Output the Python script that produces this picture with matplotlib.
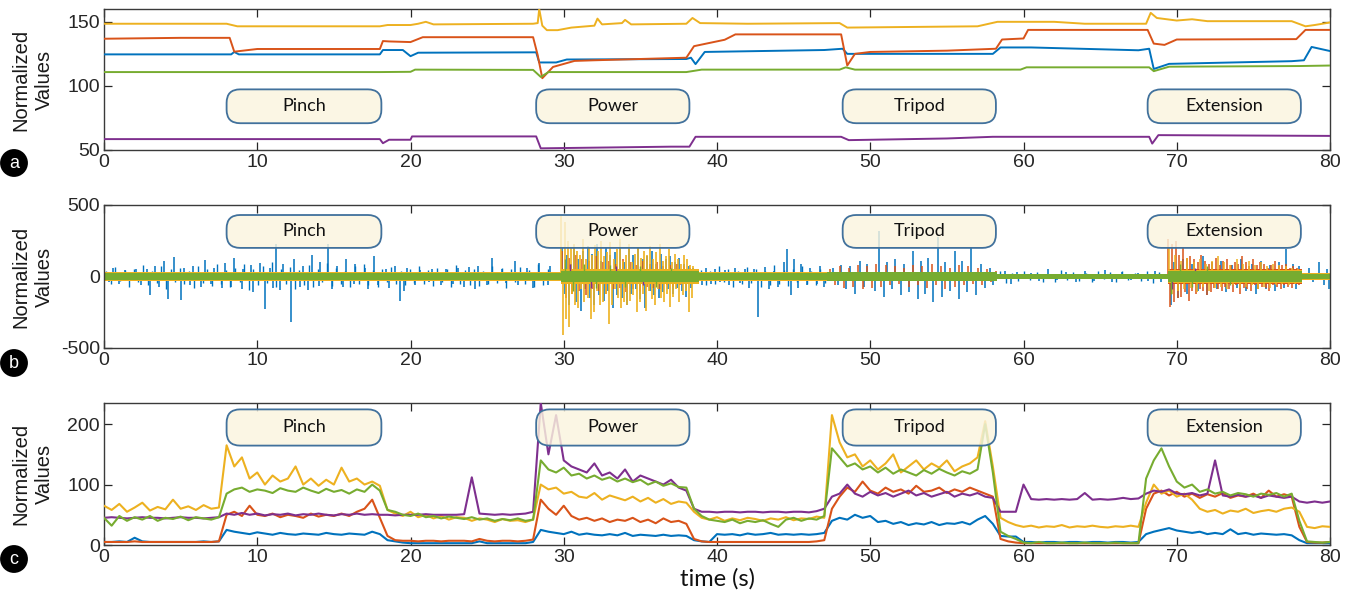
import numpy as np
import matplotlib
matplotlib.use("Agg")
import matplotlib.pyplot as plt
from matplotlib.colors import to_rgba
from matplotlib.patches import FancyBboxPatch

plt.rcParams["font.family"] = ["Liberation Sans", "DejaVu Sans"]
plt.rcParams["axes.unicode_minus"] = False

BLUE, ORANGE, YELLOW, PURPLE, GREEN = "#0072BD", "#D95319", "#EDB120", "#7E2F8E", "#77AC30"
AXIS_COLOR = "#3a3a3a"
BOX_FACE = to_rgba("#FBF4DE", 0.82)
BOX_EDGE = "#41719C"

GESTURES = ["Pinch", "Power", "Tripod", "Extension"]
GESTURE_START = [8.0, 28.2, 48.2, 68.1]
GESTURE_END = [18.1, 38.2, 58.2, 78.1]

# ---- panel a: slow baselines, (time, value) vertices
a_blue_t = [0, 8.3, 8.5, 8.8, 18.0, 18.2, 19.5, 20.0, 20.5, 28.2, 28.4, 29.5, 30.2, 38.0, 38.3, 38.6, 39.2,
            47.0, 48.2, 48.5, 58.0, 58.5, 60.5, 67.5, 68.2, 68.5, 69.5, 77.5, 78.3, 78.8, 80]
a_blue_v = [124.6, 124.6, 126.5, 124.6, 124.6, 128, 128, 123.2, 125.9, 126.2, 118.3, 118.3, 120.6, 121, 122,
            117, 126.5, 128, 129, 125, 125, 130, 130, 127.8, 129, 113.2, 117.2, 119.3, 120, 130.4, 127.2]
a_orange_t = [0, 5, 8.2, 8.5, 10, 18.0, 18.2, 18.6, 20.0, 20.8, 28.0, 28.3, 28.6, 29.3, 30.7, 32, 38.0,
              38.5, 39.5, 40.5, 41.2, 48.1, 48.5, 49.0, 50, 55, 58.2, 58.6, 60.0, 60.3, 68.1, 68.5, 69.2,
              70, 77.8, 78.4, 80]
a_orange_v = [136.8, 137.5, 137.5, 126.7, 128.8, 128.8, 135, 134.7, 134.2, 138, 138, 124, 106, 114.8, 119.5,
              120, 122, 131, 133.5, 136, 140.2, 140.2, 115.9, 125, 126.5, 127.5, 129, 136.2, 137, 143.7,
              143.7, 133, 132, 136.2, 136.5, 143.7, 143.7]
a_yellow_t = [0, 8, 8.7, 18, 18.5, 20, 20.5, 21, 21.5, 28, 28.3, 28.4, 28.6, 28.9, 29.6, 30.5, 32, 32.2,
              32.5, 33.8, 34.0, 34.4, 38, 38.4, 38.9, 42, 48, 48.5, 57, 58.3, 62, 64, 68, 68.3, 68.7, 70,
              71, 72, 77.5, 78.4, 79, 80]
a_yellow_v = [148.5, 148.5, 146.5, 146.5, 147.5, 147.5, 148.5, 150, 148, 148.5, 149, 160, 147, 143.5, 143.5,
              145.5, 147, 152.5, 148, 149, 151.5, 148, 148.5, 153, 149, 148.5, 149, 145.5, 146.5, 150, 150,
              148.5, 148.5, 157, 153, 151, 152, 150.5, 150.5, 146.5, 147.5, 149.5]
a_green_t = [0, 18, 20, 20.3, 28.0, 28.5, 29.0, 38.0, 39.0, 48.0, 48.4, 49.0, 59.8, 60.2, 68.2, 68.5,
             69.5, 78, 80]
a_green_v = [110.8, 110.8, 111, 112.7, 112.5, 107, 110.8, 110.8, 112.7, 112.7, 114.5, 112.7, 112.7, 114.5,
             114.5, 111.5, 115, 115.5, 115.9]
a_purple_t = [0, 18.0, 18.2, 18.6, 20.0, 20.1, 28.2, 28.5, 37.0, 38.2, 38.6, 48.1, 48.6, 55, 58, 68.2,
              68.4, 68.8, 80]
a_purple_v = [58.5, 58.5, 55.3, 58, 58, 60.6, 60.6, 51.3, 52.6, 52.6, 60.3, 60.3, 57.7, 59, 60.3, 60.3, 55,
              61.6, 61]

# ---- panel b: the dense core of each trace per stretch, plus the individual spikes
b_edges = [0, 29.8, 38.8, 47.2, 58.3, 69.4, 78.2, 80]
b_core_blue = [30, 45, 30, 32, 20, 40, 25]
b_core_orange = [30, 45, 30, 34, 20, 52, 26]
b_core_yellow = [30, 50, 30, 32, 20, 46, 26]
b_core_purple = [22, 35, 22, 26, 15, 35, 18]
b_core_green = [24, 38, 24, 28, 16, 40, 20]

b_blue_t = [0.6, 1.4, 2.1, 2.8, 3.3, 3.9, 4.6, 5.2, 5.8, 6.6, 7.2, 7.9, 8.5, 9.1, 9.6, 10.2, 10.8, 11.2,
            11.7, 12.4, 13.0, 13.6, 14.1, 14.6, 15.2, 15.8, 16.4, 17.0, 17.6, 18.4, 19.0, 19.8, 20.6, 21.4,
            22.3, 23.1, 23.8, 24.4, 25.3, 26.0, 26.8, 27.6, 28.4, 29.1,
            0.3, 1.0, 2.4, 3.0, 3.6, 4.2, 5.0, 5.6, 6.3, 7.0, 7.7, 8.3, 9.0, 9.7, 10.5, 11.0, 11.5, 12.2,
            12.8, 13.3, 14.0, 14.9, 15.6, 16.3, 17.2, 17.9, 18.6, 19.3, 19.6, 20.3, 21.2, 22.0, 22.8, 23.5,
            24.2, 25.0, 26.2, 27.0, 28.0, 29.0,
            39.3, 39.9, 40.5, 41.2, 41.8, 42.4, 43.1, 43.7, 44.4, 44.6, 45.0, 45.5, 46.1, 46.7,
            39.0, 39.6, 40.2, 40.8, 41.5, 42.1, 42.7, 43.4, 44.0, 44.8, 45.3, 45.9, 46.5, 47.0,
            47.6, 48.1, 48.7, 49.3, 49.8, 50.6, 51.1, 51.6, 52.2, 52.8, 53.3, 53.8, 54.4, 54.9, 55.5,
            56.0, 56.6, 57.2, 57.8,
            47.9, 48.4, 49.0, 49.6, 50.3, 50.9, 51.4, 52.0, 52.5, 53.1, 53.6, 54.1, 54.7, 55.2, 55.8,
            56.3, 56.9, 57.5, 58.0,
            58.8, 59.6, 60.5, 61.6, 62.8, 64.0, 65.3, 66.4, 67.5, 68.6,
            59.2, 60.1, 61.0, 62.2, 63.4, 64.6, 65.8, 67.0, 68.1, 69.0,
            69.8, 70.4, 71.0, 71.7, 72.3, 72.9, 73.6, 74.2, 74.9, 75.5, 76.1, 76.7, 77.1, 77.6, 78.0,
            69.6, 70.1, 70.7, 71.4, 72.0, 72.6, 73.2, 73.9, 74.5, 75.2, 75.8, 76.4, 77.0, 77.8,
            78.6, 79.3, 79.8, 78.9, 79.6, 79.95]
b_blue_v = [60, 45, 55, 50, 70, 110, 135, 60, 75, 115, 60, 95, 130, 55, 80, 95, 60, 225,
            90, 120, 70, 150, 100, 225, 70, 120, 90, 60, 140, 55, 70, 60, 45, 55,
            50, 60, 65, 70, 130, 55, 110, 60, 95, 70,
            -35, -50, -60, -130, -75, -155, -165, -60, -75, -55, -80, -70, -90, -110, -225, -80, -95, -320,
            -75, -95, -65, -90, -70, -55, -90, -60, -80, -170, -100, -60, -40, -60, -55, -70,
            -85, -60, -45, -60, -80, -60,
            60, 50, 45, 60, 55, 50, 65, 40, 100, 190, 120, 90, 60, 70,
            -60, -50, -40, -60, -45, -80, -285, -90, -70, -130, -80, -60, -50, -70,
            60, 80, 70, 110, 90, 320, 100, 120, 90, 180, 110, 130, 275, 100, 180,
            110, 200, 90, 60,
            -60, -90, -120, -70, -100, -140, -90, -130, -110, -160, -120, -180, -140, -100, -160,
            -110, -130, -80, -60,
            40, 30, 25, 50, 30, 35, 45, 30, 25, 40,
            -50, -20, -30, -25, -35, -30, -40, -25, -30, -40,
            100, 120, 90, 140, 100, 110, 80, 120, 90, 110, 80, 100, 190, 90, 70,
            -200, -150, -120, -100, -130, -90, -110, -80, -100, -120, -90, -100, -80, -90,
            60, 100, 50, -40, -60, -90]

b_blue_rest1_start, b_blue_rest1_step = 0.15, 0.3
b_blue_rest1 = [40, -50, 65, -30, 45, -70, 55, -40, 80, -60, 35, -45, 70, -90, 50, -35, 60, -55, 40, -80,
                75, -45, 55, -65, 90, -50, 45, -70, 60, -40, 85, -95, 50, -60, 70, -45, 100, -75, 55, -50,
                65, -85, 45, -60, 80, -70, 50, -40, 95, -65, 60, -55, 40, -75, 70, -50, 85, -60, 45, -70,
                55, -40, 65, -50, 40, -60, 50, -45, 70, -55, 45, -65, 60, -40, 50, -70, 80, -50, 45, -60,
                55, -65, 40, -50, 75, -45, 60, -80, 50, -40, 65, -55, 45, -70, 90, -60, 50]
b_blue_rest2_start, b_blue_rest2_step = 38.95, 0.3
b_blue_rest2 = [45, -60, 35, -50, 70, -40, 55, -75, 40, -55, 65, -45, 50, -70, 35, -60, 80, -50,
                45, -65, 55, -40, 70, -55, 40, -60, 50, -45]
b_blue_rest3_start, b_blue_rest3_step = 58.45, 0.4
b_blue_rest3 = [35, -45, 25, -30, 40, -25, 30, -40, 20, -35, 45, -25, 30, -30, 25, -40, 35, -20,
                30, -35, 40, -25, 25, -30, 35, -45, 30]
b_blue_power_start, b_blue_power_step = 29.9, 0.15
b_blue_power = [200, -120, 150, -200, 90, 220, -180, 120, -240, 180, -90, 210, -150, 160, -200,
                230, -130, 110, -170, 200, -100, 150, -220, 170, -130, 240, -150, 100, -200, 190,
                -120, 150, -90, 200, -160, 120, -220, 140, -100, 180, -130, 90, -150, 160, -110,
                120, -90, 140, -120, 100, -80, 130, -100, 90, -140, 70, -80, 60]
b_yellow_power_start, b_yellow_power_step = 29.85, 0.1
b_yellow_power = [420, -410, 380, -300, 250, -350, 200, -120, 230, -200, 180, -220, 150, -90, 260, -180,
                  120, -150, 200, -300, 150, -250, 220, -100, 180, -200, 250, -180, 140, -120, 170, -330,
                  240, -200, 120, -90, 190, -150, 260, -220, 110, -180, 150, -200, 230, -170, 100, -130,
                  160, -250, 200, -180, 130, -120, 180, -240, 150, -100, 210, -160, 120, -200, 170, -90,
                  230, -150, 110, -180, 140, -120, 190, -210, 100, -140, 160, -90, 120, -180, 90, -130,
                  150, -100, 120, -250, 80, -150, 70]
b_orange_power_start, b_orange_power_step = 29.9, 0.22
b_orange_power = [180, -150, 130, -120, 150, -100, 120, -130, 110, -90, 140, -100, 100, -120, 110,
                  -90, 90, -80, 120, -110, 100, -90, 80, -100, 110, -70, 90, -80, 100, -90, 70, -60,
                  80, -70, 90, -60, 70, -50, 60, -40]
b_orange_tripod_start, b_orange_tripod_step = 47.4, 0.3
b_orange_tripod = [50, -60, 70, -80, 60, -70, 80, -90, 70, -80, 90, -70, 80, -60, 70, -50, 60, -70,
                   80, -60, 70, -80, 90, -60, 70, -90, 60, -70, 80, -60, 70, -50, 60, -60, 50, -40, 40]
b_orange_ext_start, b_orange_ext_step = 69.45, 0.12
b_orange_ext = [260, -210, 230, -180, 250, -150, 150, -140, 200, -110, 130, -170, 140, -100, 120, -120,
                100, -90, 150, -100, 110, -130, 90, -110, 100, -80, 130, -90, 80, -100, 110, -70,
                120, -90, 80, -110, 100, -60, 90, -120, 140, -80, 100, -90, 70, -100, 120, -60,
                80, -90, 100, -70, 90, -80, 60, -100, 80, -60, 110, -70, 70, -90, 80, -60, 90, -70,
                60, -80, 70, -50, 60, -60, 50]
b_yellow_ext_start, b_yellow_ext_step = 69.5, 0.2
b_yellow_ext = [200, -120, 150, -100, 110, -90, 130, -80, 100, -110, 120, -70, 90, -100, 110, -80,
                140, -70, 100, -90, 80, -60, 120, -80, 90, -70, 110, -60, 80, -90, 100, -70, 70, -80,
                90, -60, 80, -50, 70, -60, 60, -50, 50, -40]

b_purple_t = [30.4, 31.8, 33.4, 35.2, 69.7, 71.2]
b_purple_v = [90, -80, 70, -60, -90, 60]

b_green_t = [30.1, 30.6, 31.3, 32.1, 33.0, 34.0, 35.0, 36.0, 37.0, 69.6, 70.2, 71.0, 72.0, 73.5]
b_green_v = [120, -100, 90, -80, 80, -70, 70, -70, 60, -120, 90, -70, 70, -60]

# ---- panel c: envelopes sampled every 0.5 s from 0 to 80 s
c_time = np.arange(161) * 0.5
c_yellow = [65, 58, 68, 55, 62, 70, 57, 63, 59, 75, 60, 64, 58, 66, 60, 62,
            165, 130, 145, 110, 120, 100, 115, 105, 110, 130, 100, 110, 98, 108, 100, 128, 105, 110, 100, 105, 98,
            58, 52, 48, 55, 46, 50, 44, 48, 42, 46, 45, 40, 44, 42, 38, 43, 40, 41, 38, 42,
            100, 92, 95, 85, 88, 80, 78, 86, 75, 82, 78, 74, 80, 72, 78, 70, 76, 68, 72, 70,
            55, 45, 42, 46, 40, 44, 41, 45, 43, 40, 44, 42, 46, 41, 44, 43, 47, 45,
            215, 170, 145, 150, 130, 140, 125, 135, 150, 120, 130, 140, 125, 135, 128, 140, 122, 130, 135, 145, 205, 130,
            45, 38, 33, 30, 32, 29, 31, 30, 33, 29, 31, 30, 32, 30, 29, 31, 30, 32, 30,
            70, 100, 85, 90, 80, 85, 75, 60, 55, 58, 52, 57, 55, 60, 53, 56, 58, 55, 60, 62,
            55, 30, 28, 31, 30]
c_green = [45, 32, 48, 40, 46, 42, 48, 40, 45, 43, 47, 41, 46, 44, 42, 46,
           85, 92, 95, 88, 92, 90, 86, 94, 90, 88, 95, 90, 86, 93, 88, 91, 85, 92, 88, 100, 90,
           58, 55, 50, 48, 52, 46, 48, 44, 47, 45, 43, 46, 42, 44, 40, 43, 41, 44, 40, 42,
           140, 125, 120, 128, 115, 118, 110, 115, 108, 112, 105, 110, 104, 108, 100, 105, 98, 102, 96, 95,
           60, 48, 42, 40, 38, 42, 36, 40, 38, 41, 35, 30, 42, 45, 40, 44, 42, 48,
           160, 145, 130, 135, 125, 130, 120, 128, 118, 125, 120, 115, 124, 118, 126, 120, 115, 122, 118, 125, 200, 120,
           22, 15, 10, 4, 3, 5, 3, 3, 4, 3, 3, 4, 3, 3, 3, 4, 3, 3, 3,
           110, 140, 160, 130, 105, 95, 100, 88, 92, 85, 88, 82, 86, 84, 80, 85, 83, 86, 80, 85,
           40, 6, 5, 4, 5]
c_orange = [5, 5, 5, 5, 6, 5, 5, 5, 5, 5, 5, 5, 5, 5, 5, 6,
            50, 55, 48, 65, 50, 48, 52, 46, 50, 48, 45, 52, 47, 50, 48, 52, 48, 55, 60, 75, 45,
            15, 8, 7, 7, 6, 7, 7, 6, 7, 7, 7, 6, 10, 7, 6, 7, 7, 6, 7, 9,
            75, 60, 50, 65, 48, 42, 45, 40, 44, 38, 42, 40, 45, 38, 42, 36, 44, 38, 40, 35,
            10, 6, 5, 5, 5, 5, 5, 5, 5, 5, 5, 5, 5, 5, 5, 5, 6, 8,
            60, 80, 95, 88, 105, 90, 85, 95, 88, 92, 85, 98, 88, 90, 95, 86, 92, 88, 95, 90, 85, 80,
            10, 6, 4, 3, 3, 3, 3, 3, 3, 3, 3, 3, 3, 3, 3, 3, 3, 3, 3,
            60, 85, 90, 82, 88, 80, 85, 78, 84, 80, 86, 78, 82, 80, 85, 78, 90, 80, 84, 80,
            30, 5, 4, 4, 5]
c_purple = [45, 46, 45, 44, 45, 46, 45, 45, 44, 45, 46, 45, 45, 44, 45, 46,
            52, 50, 53, 50, 52, 49, 51, 50, 52, 49, 51, 50, 52, 50, 49, 51, 50, 52, 50, 51, 50,
            50, 49, 50, 50, 50, 51, 50, 50, 50, 50, 51, 112, 52, 51, 50, 51, 50, 51, 52, 55,
            235, 150, 215, 140, 130, 125, 120, 135, 115, 120, 110, 125, 105, 115, 110, 105, 100, 108, 95, 90,
            60, 55, 55, 54, 55, 55, 54, 55, 55, 54, 55, 55, 54, 55, 55, 54, 56, 60,
            80, 85, 100, 85, 80, 88, 82, 86, 80, 85, 90, 82, 86, 80, 84, 88, 80, 85, 82, 86, 80, 78,
            55, 55, 55, 100, 76, 75, 76, 75, 76, 75, 76, 86, 75, 76, 75, 76, 78, 76, 77,
            85, 90, 88, 92, 85, 84, 86, 82, 85, 140, 82, 80, 83, 80, 82, 78, 82, 80, 78, 80,
            72, 70, 72, 70, 72]
c_blue = [5, 5, 6, 5, 12, 6, 5, 5, 5, 5, 5, 5, 5, 6, 5, 6,
          25, 22, 20, 18, 21, 19, 17, 20, 18, 17, 19, 18, 17, 20, 18, 17, 19, 18, 17, 22, 18,
          8, 6, 4, 3, 3, 3, 3, 3, 3, 3, 3, 3, 6, 3, 3, 3, 3, 3, 3, 5,
          25, 22, 20, 18, 22, 17, 19, 17, 16, 18, 16, 20, 15, 17, 16, 15, 17, 15, 16, 15,
          8, 6, 5, 18, 17, 18, 16, 19, 17, 18, 20, 17, 18, 17, 18, 17, 18, 20,
          40, 45, 42, 50, 45, 48, 38, 40, 35, 38, 33, 36, 34, 38, 33, 36, 35, 38, 34, 42, 48, 35,
          15, 14, 14, 5, 5, 4, 5, 5, 4, 5, 5, 4, 5, 5, 4, 5, 5, 4, 5,
          18, 22, 25, 28, 24, 22, 20, 22, 18, 20, 18, 26, 18, 20, 17, 19, 18, 17, 18, 16,
          8, 3, 3, 3, 3]

FIG_W, FIG_H = 1356, 600
LEFT, RIGHT = 104, 1330
PANELS = [  # (top px, bottom px, ylim, yticks, box bottom/top in axes fraction, letter, letter y px)
    (9, 150, (50, 160), [50, 100, 150], (0.19, 0.43), "a", 163),
    (205, 348, (-500, 500), [-500, 0, 500], (0.70, 0.93), "b", 363),
    (403, 545, (0, 235), [0, 100, 200], (0.70, 0.955), "c", 559),
]


def style_axes(ax, ylim, yticks):
    ax.set_xlim(0, 80)
    ax.set_ylim(*ylim)
    ax.set_xticks(range(0, 81, 10))
    ax.set_yticks(yticks)
    ax.tick_params(direction="in", top=True, right=True, length=6, width=0.9,
                   labelsize=14, colors="#262626", pad=3)
    for side in ax.spines.values():
        side.set_color(AXIS_COLOR)
        side.set_linewidth(1.0)
    ax.set_ylabel("Normalized\nValues", fontsize=14.5, linespacing=1.3, color="#1a1a1a")
    ax.yaxis.set_label_coords(-0.041, 0.5)


def draw_boxes(ax, y0, y1, w_px, h_px):
    for name, start, end in zip(GESTURES, GESTURE_START, GESTURE_END):
        x0, x1 = start / 80, end / 80
        ax.add_patch(FancyBboxPatch((x0, y0), x1 - x0, y1 - y0, transform=ax.transAxes,
                                    boxstyle="round,pad=0,rounding_size=0.011",
                                    mutation_aspect=w_px / h_px, facecolor=BOX_FACE,
                                    edgecolor=BOX_EDGE, linewidth=1.3, zorder=4))
        ax.text((x0 + x1) / 2, (y0 + y1) / 2, name, transform=ax.transAxes, ha="center",
                va="center", fontsize=13, family=["Lato", "DejaVu Sans"], color="#111111", zorder=5)


def core(ax, amps, colour):
    t = np.repeat(b_edges, 2)[1:-1]
    a = np.repeat(amps, 2)
    ax.fill_between(t, -a, a, color=colour, linewidth=0, zorder=2)


def burst(ax, start, step, values, colour, lw=1.1):
    t = start + step * np.arange(len(values))
    ax.vlines(t, 0, values, color=colour, lw=lw, zorder=2)


fig = plt.figure(figsize=(FIG_W / 100, FIG_H / 100), dpi=100)
axes = []
for top, bottom, ylim, yticks, (by0, by1), letter, ly in PANELS:
    ax = fig.add_axes([LEFT / FIG_W, 1 - bottom / FIG_H, (RIGHT - LEFT) / FIG_W, (bottom - top) / FIG_H])
    style_axes(ax, ylim, yticks)
    draw_boxes(ax, by0, by1, RIGHT - LEFT, bottom - top)
    fig.text(14 / FIG_W, 1 - ly / FIG_H, letter, ha="center", va="center", color="white", fontsize=13,
             bbox=dict(boxstyle="circle,pad=0.3", facecolor="black", edgecolor="none"))
    axes.append(ax)

ax_a, ax_b, ax_c = axes

for t, v, colour in ((a_blue_t, a_blue_v, BLUE), (a_orange_t, a_orange_v, ORANGE),
                     (a_yellow_t, a_yellow_v, YELLOW), (a_purple_t, a_purple_v, PURPLE),
                     (a_green_t, a_green_v, GREEN)):
    ax_a.plot(t, v, color=colour, lw=1.4, zorder=3)

# MATLAB draw order: blue, orange, yellow, purple, green
ax_b.vlines(b_blue_t, 0, b_blue_v, color=BLUE, lw=1.1, zorder=2)
burst(ax_b, b_blue_rest1_start, b_blue_rest1_step, b_blue_rest1, BLUE, lw=1.0)
burst(ax_b, b_blue_rest2_start, b_blue_rest2_step, b_blue_rest2, BLUE, lw=1.0)
burst(ax_b, b_blue_rest3_start, b_blue_rest3_step, b_blue_rest3, BLUE, lw=1.0)
burst(ax_b, b_blue_power_start, b_blue_power_step, b_blue_power, BLUE)
core(ax_b, b_core_blue, BLUE)
core(ax_b, b_core_orange, ORANGE)
burst(ax_b, b_orange_power_start, b_orange_power_step, b_orange_power, ORANGE)
burst(ax_b, b_orange_tripod_start, b_orange_tripod_step, b_orange_tripod, ORANGE)
burst(ax_b, b_orange_ext_start, b_orange_ext_step, b_orange_ext, ORANGE)
core(ax_b, b_core_yellow, YELLOW)
burst(ax_b, b_yellow_power_start, b_yellow_power_step, b_yellow_power, YELLOW, lw=1.2)
burst(ax_b, b_yellow_ext_start, b_yellow_ext_step, b_yellow_ext, YELLOW)
core(ax_b, b_core_purple, PURPLE)
ax_b.vlines(b_purple_t, 0, b_purple_v, color=PURPLE, lw=1.0, zorder=2)
core(ax_b, b_core_green, GREEN)
ax_b.vlines(b_green_t, 0, b_green_v, color=GREEN, lw=1.0, zorder=2)

for v, colour in ((c_blue, BLUE), (c_orange, ORANGE), (c_yellow, YELLOW), (c_purple, PURPLE),
                  (c_green, GREEN)):
    ax_c.plot(c_time, v, color=colour, lw=1.5, zorder=3)

fig.text(718 / FIG_W, 1 - 579 / FIG_H, "time (s)", ha="center", va="center", fontsize=17,
         family=["Lato", "DejaVu Sans"], color="#111111")

fig.savefig("out.png", dpi=100)
